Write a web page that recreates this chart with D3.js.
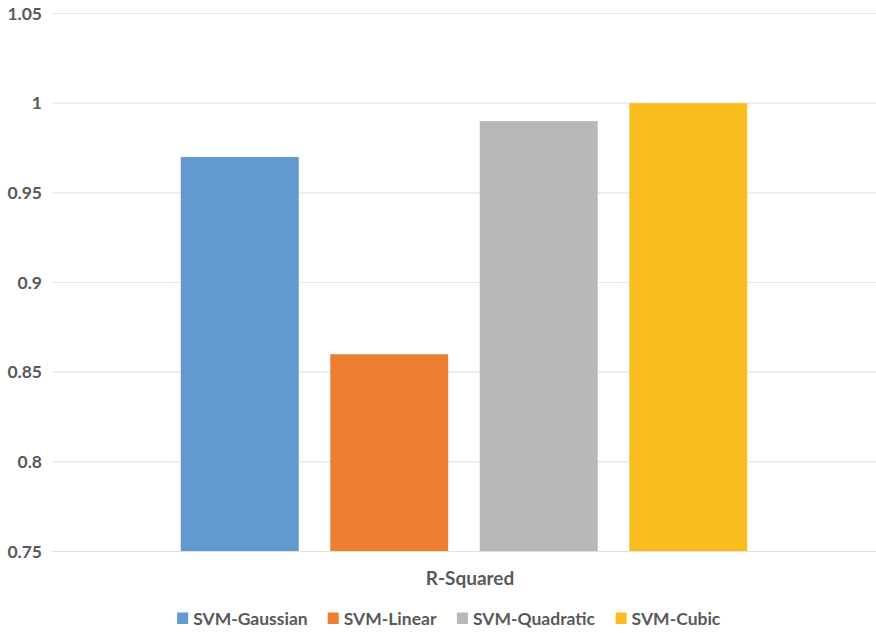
<!DOCTYPE html>
<html>
<head>
<meta charset="utf-8">
<script src="https://cdn.jsdelivr.net/npm/d3@7"></script>
<style>
  html, body { margin: 0; padding: 0; background: #fff; }
  svg text { font-family: Lato, "Open Sans", sans-serif; font-weight: bold; fill: #595959; }
</style>
</head>
<body>
<svg id="chart" width="876" height="633"></svg>
<script>
// R-Squared of SVM kernels
const category = "R-Squared";
const seriesNames = ["SVM-Gaussian", "SVM-Linear", "SVM-Quadratic", "SVM-Cubic"];
const seriesValues = [0.97, 0.86, 0.99, 1.0];
const seriesColors = ["#6299CE", "#EC7D31", "#B8B8B8", "#F9BD1F"];
const yTicks = [0.75, 0.8, 0.85, 0.9, 0.95, 1, 1.05];

const svg = d3.select("#chart");
const plot = { left: 52, right: 876, top: 13.5, bottom: 551.5 };

const y = d3.scaleLinear().domain([0.75, 1.05]).range([plot.bottom, plot.top]);

// one category band spanning the plot, series bands inside it
const x0 = d3.scaleBand().domain([category]).range([plot.left, plot.right]).paddingInner(0).paddingOuter(0);
const groupPad = 113;
const x1 = d3.scaleBand().domain(seriesNames)
  .range([x0(category) + groupPad, x0(category) + x0.bandwidth() - groupPad])
  .paddingInner(0.211).paddingOuter(0.1055);

// gridlines
svg.append("g").selectAll("line").data(yTicks).join("line")
  .attr("x1", plot.left).attr("x2", plot.right)
  .attr("y1", d => y(d)).attr("y2", d => y(d))
  .attr("stroke", "#E6E6E6").attr("stroke-width", 1.2);

// y tick labels
const yAxis = d3.axisLeft(y).tickValues(yTicks).tickFormat(d3.format("")).tickSize(0).tickPadding(10);
const ya = svg.append("g").attr("transform", `translate(${plot.left},0)`).call(yAxis);
ya.select(".domain").remove();
ya.selectAll("text").attr("font-size", 17.5).style("font-family", "Lato, 'Open Sans', sans-serif").style("font-weight", "bold").attr("fill", "#595959");

// bars
svg.append("g").selectAll("rect").data(seriesNames).join("rect")
  .attr("x", d => x1(d))
  .attr("width", x1.bandwidth())
  .attr("y", (d, i) => y(seriesValues[i]))
  .attr("height", (d, i) => y(0.75) - y(seriesValues[i]))
  .attr("fill", (d, i) => seriesColors[i]);

// baseline over bars
svg.append("line").attr("x1", plot.left).attr("x2", plot.right)
  .attr("y1", y(0.75)).attr("y2", y(0.75)).attr("stroke", "#E0E0E0").attr("stroke-width", 1.2);

// category label
svg.append("text").attr("x", 470).attr("y", 585)
  .attr("text-anchor", "middle").attr("font-size", 19).text(category);

// legend
const legend = svg.append("g");
const items = legend.selectAll("g").data(seriesNames).join("g");
items.append("rect").attr("width", 11).attr("height", 11.5).attr("y", 612.5)
  .attr("fill", (d, i) => seriesColors[i]);
items.append("text").attr("x", 16).attr("y", 625).attr("font-size", 17.5).text(d => d);
const gap = 20;
const widths = [];
items.each(function () { widths.push(this.getBBox().width); });
const total = d3.sum(widths) + gap * (widths.length - 1);
let cx = 449 - total / 2;
items.attr("transform", (d, i) => {
  const t = `translate(${cx},0)`;
  cx += widths[i] + gap;
  return t;
});
</script>
</body>
</html>
